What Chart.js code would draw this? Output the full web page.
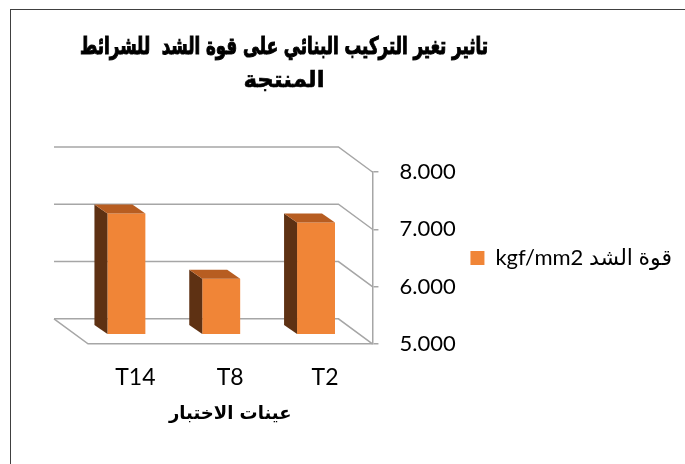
<!DOCTYPE html>
<html>
<head>
<meta charset="utf-8">
<script src="https://cdn.jsdelivr.net/npm/chart.js@4.4.1/dist/chart.umd.min.js"></script>
<style>
  html, body { margin: 0; padding: 0; background: #fff; overflow: hidden; }
  #wrap { position: relative; width: 685px; height: 464px; }
  #frame { position: absolute; left: 10px; top: 9px; width: 700px; height: 500px;
           border-left: 1px solid #404040; border-top: 1px solid #404040; }
  canvas { position: absolute; left: 0; top: 0; }
</style>
</head>
<body>
<div id="wrap">
  <div id="frame"></div>
  <canvas id="barChart" width="685" height="464"></canvas>
</div>
<script>
const categories = ['T14', 'T8', 'T2'];
const tensileValues = [7.12, 5.98, 6.96];
const seriesName = 'قوة الشد kgf/mm2';
const chartTitle = ['تاثير تغير التركيب البنائي على قوة الشد  للشرائط', 'المنتجة'];
const xAxisTitle = 'عينات الاختبار';
const yMin = 5, yMax = 8, yStep = 1;

// 3d look: bar depth, back wall offset, and shift of the bars into the floor
const DX = -13, DY = -9;
const WX = -34, WY = -25;
const SX = -9, SY = -9;
const gridColor = '#a6a6a6';

const wall3d = {
    id: 'wall3d',
    beforeDatasetsDraw(chart) {
        const { ctx, chartArea: a, scales: { y } } = chart;
        ctx.save();
        ctx.strokeStyle = gridColor;
        ctx.lineWidth = 1.5;
        y.ticks.forEach(t => {
            const py = y.getPixelForValue(t.value);
            ctx.beginPath();
            ctx.moveTo(a.left + WX, py + WY);
            ctx.lineTo(a.right + WX, py + WY);
            ctx.lineTo(a.right, py);
            ctx.stroke();
        });
        const fy = y.getPixelForValue(yMin);
        ctx.beginPath();
        ctx.moveTo(a.left + WX, fy + WY);
        ctx.lineTo(a.left, fy);
        ctx.lineTo(a.right, fy);
        ctx.stroke();
        ctx.restore();
        ctx.save();
        ctx.translate(SX, SY);
    },
    afterDatasetsDraw(chart) {
        const ctx = chart.ctx;
        chart.getDatasetMeta(0).data.forEach(bar => {
            const { x, y, base, width } = bar.getProps(['x', 'y', 'base', 'width'], true);
            const l = x - width / 2, r = x + width / 2;
            ctx.fillStyle = '#5e3113';
            ctx.beginPath();
            ctx.moveTo(l, y);
            ctx.lineTo(l + DX, y + DY);
            ctx.lineTo(l + DX, base + DY);
            ctx.lineTo(l, base);
            ctx.closePath();
            ctx.fill();
            ctx.fillStyle = '#b75d21';
            ctx.beginPath();
            ctx.moveTo(l, y);
            ctx.lineTo(r, y);
            ctx.lineTo(r + DX, y + DY);
            ctx.lineTo(l + DX, y + DY);
            ctx.closePath();
            ctx.fill();
        });
        ctx.restore();
    }
};

const titleRtl = {
    id: 'titleRtl',
    afterDraw(chart) {
        const ctx = chart.ctx;
        ctx.save();
        ctx.font = 'bold 24px "DejaVu Sans"';
        ctx.fillStyle = '#000';
        ctx.strokeStyle = '#000';
        ctx.lineWidth = 1.1;
        ctx.textAlign = 'center';
        ctx.direction = 'rtl';
        ctx.fillText(chartTitle[0], 284, 54, 408);
        ctx.strokeText(chartTitle[0], 284, 54, 408);
        ctx.font = 'bold 23px "DejaVu Sans"';
        ctx.lineWidth = 0.6;
        ctx.fillText(chartTitle[1], 284, 87);
        ctx.strokeText(chartTitle[1], 284, 87);
        ctx.restore();
    }
};

const ctx = document.getElementById('barChart').getContext('2d');
const barChart = new Chart(ctx, {
    type: 'bar',
    data: {
        labels: categories,
        datasets: [{
            label: seriesName,
            data: tensileValues,
            base: yMin,
            backgroundColor: '#f08537',
            borderWidth: 0,
            barPercentage: 0.4,
            categoryPercentage: 1,
            clip: false
        }]
    },
    options: {
        responsive: false,
        animation: false,
        layout: { padding: { top: 172, left: 88, right: 3, bottom: 39 } },
        scales: {
            x: {
                grid: { display: false, drawTicks: false },
                border: { display: false },
                ticks: { padding: 20, color: '#000', font: { family: 'Lato', size: 23 } },
                title: {
                    display: true,
                    text: xAxisTitle,
                    color: '#000',
                    font: { family: '"DejaVu Sans"', size: 18, weight: 'bold' },
                    padding: { top: -8, bottom: 0 }
                }
            },
            y: {
                position: 'right',
                min: yMin,
                max: yMax,
                afterFit: s => { s.width = 90; },
                grid: { drawOnChartArea: false, color: gridColor, lineWidth: 1.5, tickLength: 6 },
                border: { color: gridColor, width: 1.5 },
                ticks: {
                    stepSize: yStep,
                    padding: 21,
                    color: '#000',
                    font: { family: 'Lato', size: 22 },
                    callback: v => v.toFixed(3)
                }
            }
        },
        plugins: {
            legend: {
                position: 'right',
                fullSize: false,
                maxWidth: 260,
                textDirection: 'rtl',
                labels: {
                    boxWidth: 14,
                    boxHeight: 14,
                    padding: 8,
                    color: '#000',
                    font: { family: 'Lato, "DejaVu Sans"', size: 22 }
                }
            },
            tooltip: { enabled: false }
        }
    },
    plugins: [wall3d, titleRtl]
});
</script>
</body>
</html>
